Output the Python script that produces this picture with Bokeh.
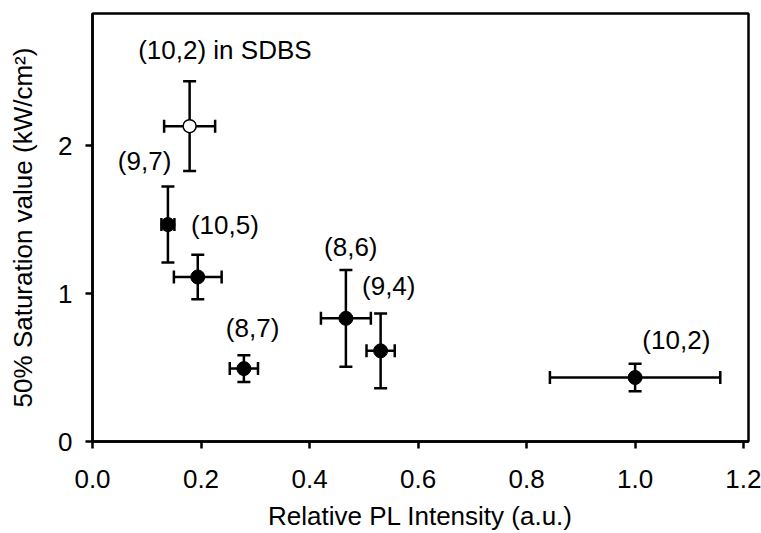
from bokeh.plotting import figure
from bokeh.models import ColumnDataSource, Whisker, TeeHead, FixedTicker, Range1d, NumeralTickFormatter
from bokeh.core.properties import value
from bokeh.embed import file_html
from bokeh.resources import INLINE

# Data
# SDS-dispersed species
species = ["(9,7)", "(10,5)", "(8,7)", "(8,6)", "(9,4)", "(10,2)"]
pl_int = [0.139, 0.194, 0.279, 0.467, 0.531, 1.000]
pl_err = [0.012, 0.044, 0.026, 0.046, 0.026, 0.157]
sat_val = [1.467, 1.113, 0.493, 0.833, 0.613, 0.433]
sat_err = [0.257, 0.150, 0.090, 0.327, 0.253, 0.093]

# (10,2) in SDBS
sdbs_label = "(10,2) in SDBS"
sdbs_pl = [0.179]
sdbs_pl_err = [0.047]
sdbs_sat = [2.133]
sdbs_sat_err = [0.303]

# label anchor positions (data coordinates)
label_text = ["(10,2) in SDBS", "(9,7)", "(10,5)", "(8,6)", "(8,7)", "(9,4)", "(10,2)"]
label_x = [0.244, 0.096, 0.244, 0.476, 0.295, 0.546, 1.076]
label_y = [2.645, 1.90, 1.467, 1.313, 0.767, 1.053, 0.687]

x_ticks = [0.0, 0.2, 0.4, 0.6, 0.8, 1.0, 1.2]
y_ticks = [0, 1, 2]

FONT = "Liberation Sans"
FS = "26px"

p = figure(width=761, height=533, x_range=Range1d(0, 1.209), y_range=Range1d(0, 2.895),
           output_backend="svg", toolbar_location=None,
           min_border_left=92, min_border_right=13, min_border_top=13, min_border_bottom=86)
p.grid.visible = False
p.outline_line_color = "black"
p.outline_line_width = 2.5
p.background_fill_color = "white"
p.border_fill_color = "white"

for ax in (p.xaxis[0], p.yaxis[0]):
    ax.axis_line_width = 2.5
    ax.major_tick_line_width = 2.5
    ax.major_tick_out = 7
    ax.major_tick_in = 0
    ax.minor_tick_out = 0
    ax.minor_tick_in = 0
    ax.major_label_text_font = FONT
    ax.major_label_text_font_size = FS
    ax.major_label_text_color = "black"
    ax.axis_label_text_font = FONT
    ax.axis_label_text_font_size = FS
    ax.axis_label_text_font_style = "normal"
    ax.axis_label_text_color = "black"

p.xaxis.ticker = FixedTicker(ticks=x_ticks)
p.xaxis.formatter = NumeralTickFormatter(format="0.0")
p.yaxis.ticker = FixedTicker(ticks=y_ticks)
p.xaxis.axis_label = "Relative PL Intensity (a.u.)"
p.yaxis.axis_label = "50% Saturation value (kW/cm²)"
p.xaxis.major_label_standoff = 21
p.yaxis.major_label_standoff = 13
p.xaxis.axis_label_standoff = 10
p.yaxis.axis_label_standoff = 17

src = ColumnDataSource(dict(
    x=pl_int, y=sat_val,
    xl=[a - b for a, b in zip(pl_int, pl_err)], xu=[a + b for a, b in zip(pl_int, pl_err)],
    yl=[a - b for a, b in zip(sat_val, sat_err)], yu=[a + b for a, b in zip(sat_val, sat_err)],
))
src2 = ColumnDataSource(dict(
    x=sdbs_pl, y=sdbs_sat,
    xl=[a - b for a, b in zip(sdbs_pl, sdbs_pl_err)], xu=[a + b for a, b in zip(sdbs_pl, sdbs_pl_err)],
    yl=[a - b for a, b in zip(sdbs_sat, sdbs_sat_err)], yu=[a + b for a, b in zip(sdbs_sat, sdbs_sat_err)],
))

def head():
    return TeeHead(size=13, line_width=2.5, line_color="black")

for s in (src, src2):
    p.add_layout(Whisker(source=s, base="x", lower="yl", upper="yu", dimension="height",
                         line_width=2.5, line_color="black", upper_head=head(), lower_head=head()))
    p.add_layout(Whisker(source=s, base="y", lower="xl", upper="xu", dimension="width",
                         line_width=2.5, line_color="black", upper_head=head(), lower_head=head()))

p.scatter("x", "y", source=src, size=14, fill_color="black", line_color="black", line_width=1)
p.scatter("x", "y", source=src2, size=13, fill_color="white", line_color="black", line_width=1.5)

p.text(x=label_x, y=label_y, text=label_text, text_font=value(FONT), text_font_size=FS,
       text_align="center", text_baseline="middle", text_color="black")

open("out.html", "w").write(file_html(p, INLINE))
